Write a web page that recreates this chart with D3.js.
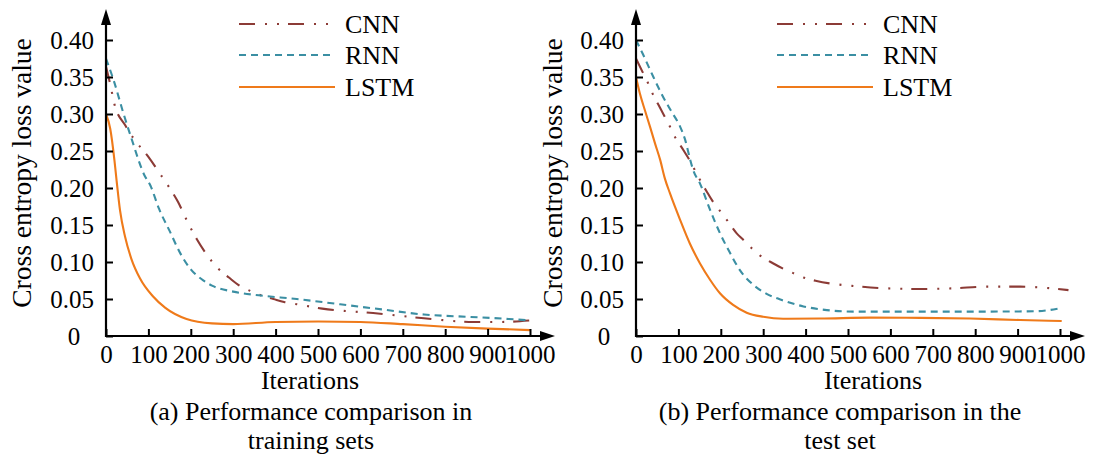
<!DOCTYPE html>
<html>
<head>
<meta charset="utf-8">
<script src="https://cdn.jsdelivr.net/npm/d3@7"></script>
<style>
  body { margin: 0; background: #fff; }
  svg text { font-family: "Liberation Serif", "Times New Roman", serif; fill: #000; }
</style>
</head>
<body>
<div id="chart"></div>
<script>
// values: [iterations, loss]
const seriesNames = ["CNN", "RNN", "LSTM"];
const xTicks = [0, 100, 200, 300, 400, 500, 600, 700, 800, 900, 1000];
const yTicks = [0, 0.05, 0.10, 0.15, 0.20, 0.25, 0.30, 0.35, 0.40];

const trainCNN = [[0,0.364],[10,0.340],[20,0.313],[45,0.285],[65,0.267],[100,0.242],[130,0.217],[150,0.200],[170,0.181],[190,0.157],[215,0.130],[235,0.112],[265,0.091],[290,0.079],[315,0.068],[340,0.061],[365,0.055],[395,0.050],[420,0.046],[450,0.043],[510,0.037],[630,0.031],[750,0.024],[866,0.019],[930,0.019],[1000,0.021]];
const trainRNN = [[0,0.375],[20,0.342],[40,0.303],[60,0.267],[90,0.218],[105,0.203],[125,0.172],[150,0.142],[175,0.112],[200,0.090],[225,0.077],[250,0.068],[300,0.060],[360,0.055],[450,0.050],[550,0.043],[650,0.036],[750,0.029],[850,0.026],[950,0.023],[1000,0.021]];
const trainLSTM = [[0,0.300],[10,0.280],[20,0.237],[25,0.210],[33,0.170],[45,0.134],[60,0.104],[80,0.078],[110,0.054],[140,0.038],[190,0.023],[250,0.017],[300,0.016],[400,0.019],[500,0.0195],[600,0.019],[700,0.016],[800,0.0126],[900,0.010],[1000,0.008]];

const testCNN = [[0,0.375],[17,0.355],[29,0.341],[38,0.329],[57,0.308],[80,0.283],[92,0.269],[112,0.251],[126,0.238],[147,0.215],[167,0.195],[182,0.181],[198,0.169],[214,0.157],[237,0.139],[253,0.130],[273,0.1185],[292,0.109],[324,0.098],[347,0.091],[371,0.085],[395,0.079],[426,0.0743],[458,0.071],[512,0.0676],[591,0.0644],[670,0.0635],[748,0.0644],[827,0.0667],[906,0.0667],[1020,0.062]];
const testRNN = [[0,0.400],[17,0.380],[41,0.350],[64,0.323],[84,0.303],[104,0.283],[116,0.265],[127,0.240],[135,0.224],[151,0.206],[175,0.170],[198,0.139],[222,0.112],[245,0.089],[277,0.069],[308,0.057],[347,0.048],[395,0.040],[450,0.035],[513,0.033],[670,0.033],[827,0.033],[945,0.0335],[995,0.037]];
const testLSTM = [[0,0.350],[9,0.328],[21,0.305],[33,0.283],[45,0.260],[57,0.238],[68,0.213],[80,0.193],[104,0.157],[127,0.125],[151,0.098],[175,0.0757],[198,0.0577],[229,0.042],[261,0.0315],[300,0.026],[347,0.0234],[434,0.0236],[552,0.0248],[670,0.0245],[788,0.0236],[906,0.0216],[1004,0.0203]];

const panels = [
  { series: [trainCNN, trainRNN, trainLSTM], x0: 106, x1: 530, legendX: 239, ylabX: 31,
    titleX: 310, capX: 311, caption: ["(a) Performance comparison in", "training sets"] },
  { series: [testCNN, testRNN, testLSTM], x0: 636, x1: 1060, legendX: 777, ylabX: 562,
    titleX: 873, capX: 840, caption: ["(b) Performance comparison in the", "test set"] }
];

const colors = ["#8c3b36", "#3b8fa3", "#ef7a1a"];
const dashes = ["16,10,2,10,2,9", "7,5", null];

const W = 1096, H = 455;
const yBottom = 336, yTop = 40;

const svg = d3.select("#chart").append("svg")
  .attr("width", W).attr("height", H);

const y = d3.scaleLinear().domain([0, 0.4]).range([yBottom, yTop]);

panels.forEach(function(p) {
  const x = d3.scaleLinear().domain([0, 1000]).range([p.x0, p.x1]);
  const g = svg.append("g");

  // lines
  const line = d3.line()
    .x(d => x(d[0]))
    .y(d => y(d[1]))
    .curve(d3.curveMonotoneX);

  p.series.forEach(function(s, i) {
    g.append("path")
      .attr("d", line(s))
      .attr("fill", "none")
      .attr("stroke", colors[i])
      .attr("stroke-width", 2.1)
      .attr("stroke-dasharray", dashes[i]);
  });

  // y axis, ticks inside
  const yAxis = d3.axisLeft(y)
    .tickValues(yTicks)
    .tickSizeInner(-7)
    .tickSizeOuter(0)
    .tickPadding(12)
    .tickFormat(d => d === 0 ? "0" : d.toFixed(2));
  const ya = g.append("g")
    .attr("transform", "translate(" + p.x0 + ",0)")
    .call(yAxis);
  ya.select(".domain").remove();
  ya.selectAll(".tick line").attr("stroke", "#000").attr("stroke-width", 2);
  ya.selectAll(".tick text")
    .attr("font-size", 25)
    .attr("font-family", "Liberation Serif, Times New Roman, serif");
  ya.selectAll(".tick text").filter(d => d === 0)
    .attr("x", -32).attr("text-anchor", "middle");

  // x axis, ticks inside
  const xAxis = d3.axisBottom(x)
    .tickValues(xTicks)
    .tickSizeInner(-7)
    .tickSizeOuter(0)
    .tickPadding(9)
    .tickFormat(d3.format("d"));
  const xa = g.append("g")
    .attr("transform", "translate(0," + yBottom + ")")
    .call(xAxis);
  xa.select(".domain").remove();
  xa.selectAll(".tick line").attr("stroke", "#000").attr("stroke-width", 2);
  xa.selectAll(".tick text")
    .attr("font-size", 25)
    .attr("font-family", "Liberation Serif, Times New Roman, serif");

  // axis lines with arrows
  g.append("line")
    .attr("x1", p.x0).attr("y1", yBottom + 1)
    .attr("x2", p.x0).attr("y2", 20)
    .attr("stroke", "#000").attr("stroke-width", 2.2);
  g.append("path")
    .attr("d", "M" + (p.x0 - 5) + ",25L" + p.x0 + ",9L" + (p.x0 + 5) + ",25Z")
    .attr("fill", "#000");
  g.append("line")
    .attr("x1", p.x0 - 1).attr("y1", yBottom)
    .attr("x2", p.x1 + 15).attr("y2", yBottom)
    .attr("stroke", "#000").attr("stroke-width", 2.2);
  g.append("path")
    .attr("d", "M" + (p.x1 + 10) + "," + (yBottom - 5) + "L" + (p.x1 + 25) + "," + yBottom +
      "L" + (p.x1 + 10) + "," + (yBottom + 5) + "Z")
    .attr("fill", "#000");

  // axis titles
  g.append("text")
    .attr("transform", "translate(" + p.ylabX + ",173) rotate(-90)")
    .attr("text-anchor", "middle")
    .attr("font-size", 27.5)
    .text("Cross entropy loss value");
  g.append("text")
    .attr("x", p.titleX).attr("y", 389)
    .attr("text-anchor", "middle")
    .attr("font-size", 26)
    .text("Iterations");

  // caption
  p.caption.forEach(function(t, i) {
    g.append("text")
      .attr("x", p.capX).attr("y", 420 + i * 29)
      .attr("text-anchor", "middle")
      .attr("font-size", 26)
      .text(t);
  });

  // legend
  const rows = [24, 55, 87];
  seriesNames.forEach(function(name, i) {
    g.append("line")
      .attr("x1", p.legendX).attr("x2", p.legendX + 96)
      .attr("y1", rows[i]).attr("y2", rows[i])
      .attr("stroke", colors[i])
      .attr("stroke-width", 2)
      .attr("stroke-dasharray", dashes[i]);
    g.append("text")
      .attr("x", p.legendX + 106).attr("y", rows[i] + 9)
      .attr("font-size", 26)
      .text(name);
  });
});
</script>
</body>
</html>
